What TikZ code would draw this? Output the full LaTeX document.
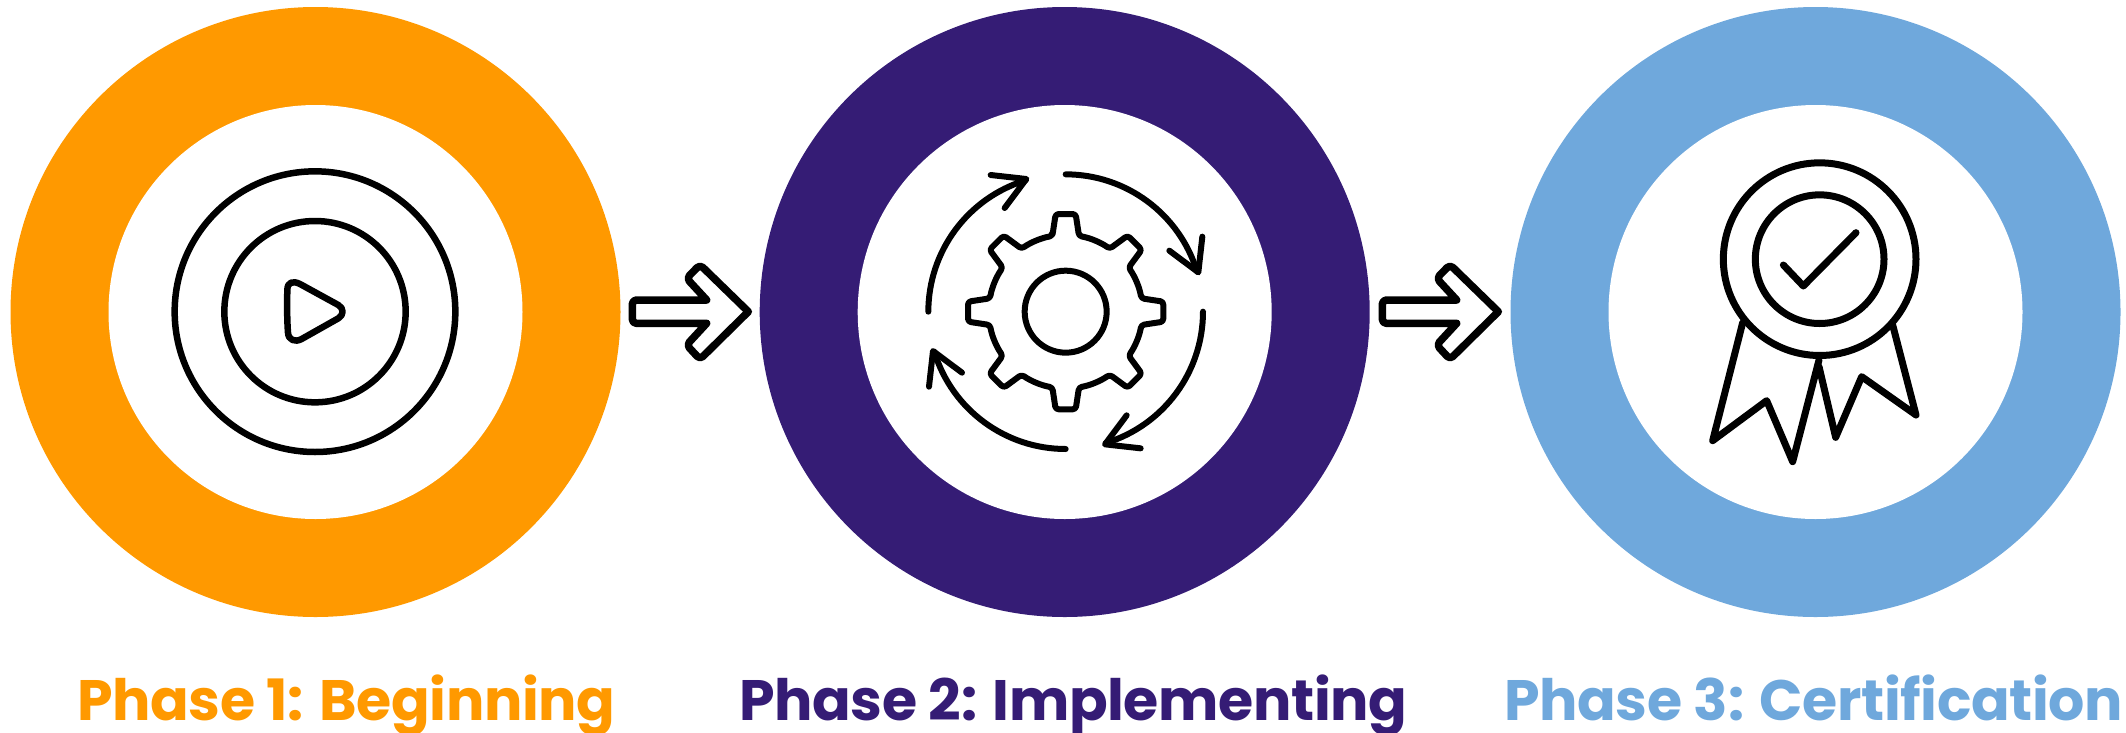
\documentclass[tikz,border=0pt]{standalone}
\usepackage{fontspec}
\setmainfont[LetterSpace=-0.7]{Poppins}
\definecolor{phaseorange}{HTML}{FF9900}
\definecolor{phasepurple}{HTML}{351C75}
\definecolor{phaseblue}{HTML}{6FA8DC}
\tikzset{
  icon/.style={draw=black,line width=#1,line join=round,line cap=round,fill=none},
  icon/.default=6.5pt,
  ringouter/.style={circle,fill=#1,minimum size=610pt,inner sep=0pt,outer sep=0pt},
  ringinner/.style={circle,fill=white,minimum size=414pt,inner sep=0pt,outer sep=0pt},
  phaselabel/.style={anchor=base west,inner sep=0pt,font=\fontsize{#1}{#1}\selectfont\bfseries}
}
\begin{document}
\begin{tikzpicture}[x=1pt,y=1pt,yscale=-1]
\useasboundingbox (0,0) rectangle (2126,732);
% rings
\node[ringouter=phaseorange] (r1) at (315.5,312) {};
\node[ringinner] (w1) at (r1.center) {};
\node[ringouter=phasepurple] (r2) at (1064.7,312) {};
\node[ringinner] (w2) at (r2.center) {};
\node[ringouter=phaseblue] (r3) at (1815.5,312) {};
\node[ringinner] (w3) at (r3.center) {};
% play icon
\begin{scope}[shift={(130,140)},scale=1/3]
\draw[icon] (555,515) circle (421);
\draw[icon] (555,515) circle (272);
\draw[icon] (472,450) .. controls (472,425) and (490,422) .. (510,432)
  -- (625,495) .. controls (642,505) and (642,525) .. (625,535)
  -- (515,597) .. controls (495,608) and (475,600) .. (474,578)
  .. controls (471,540) and (471,490) .. (472,450) -- cycle;
\end{scope}
% arrows
\foreach \dx in {0,750}{
\begin{scope}[shift={(610+\dx,230)},scale=1/3]
\draw[icon=7.5pt] (290,210) [rounded corners=4pt] -- (67,210) -- (67,280) [sharp corners] -- (290,280)
  [rounded corners=4pt] -- (230,345) -- (270,388) [sharp corners] -- (415,245)
  [rounded corners=4pt] -- (270,104) -- (230,145) [sharp corners] -- (290,210) -- cycle;
\end{scope}}
% gear icon
\begin{scope}[shift={(890,140)},scale=1/3]
\begin{scope}[shift={(527,515)}]
\draw[icon=6pt,rounded corners=3pt] (-100:230.5)
  \foreach \a in {0,45,...,315}{
    -- ({\a-95.85}:294.5) -- ({\a-84.15}:294.5) -- ({\a-80}:230.5)
    arc[start angle=\a-80,end angle=\a-55,radius=230.5]
  } -- cycle;
\draw[icon=6pt] (0,0) circle (123);
\foreach \r in {0,90,180,270}{
\begin{scope}[rotate=\r]
\draw[icon=6pt] (0,-412) arc[start angle=-90,end angle=-17,radius=412];
\draw[icon=6pt] (311,-183) -- (398,-118) -- (410,-225);
\end{scope}}
\end{scope}
\end{scope}
% badge icon
\begin{scope}[shift={(1700,130)},scale=1/3]
\draw[icon=7pt] (128,578) -- (38,932) -- (200,812) -- (278,995) -- (357,690);
\draw[icon=7pt] (357,710) -- (407,922) -- (485,740) -- (648,855) -- (578,585);
\draw[icon=7pt] (359,387.5) circle (289);
\draw[icon=7pt] (359,387.5) circle (193);
\draw[icon=7pt] (250,405) -- (310,468) -- (468,308);
\end{scope}
% labels
\node[phaselabel=57,text=phaseorange] (t1) at (77,720) {Phase 1: Beginning};
\node[phaselabel=57,text=phasepurple] (t2) at (739,720) {Phase 2: Implementing};
\node[phaselabel=57,text=phaseblue] (t3) at (1504,720) {Phase 3: Certification};
\end{tikzpicture}
\end{document}
